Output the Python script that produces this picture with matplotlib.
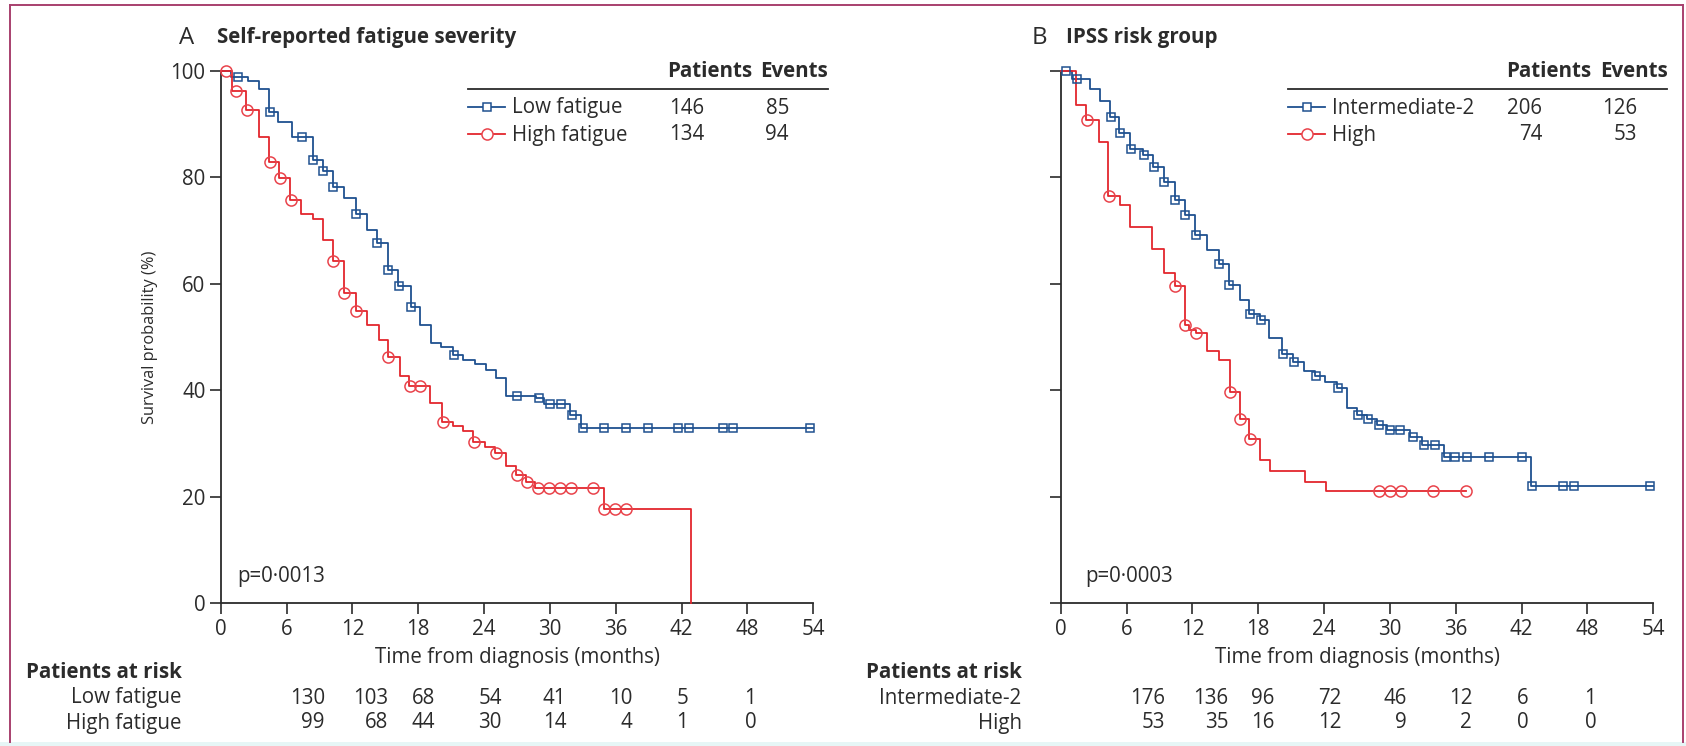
import numpy as np
import matplotlib
matplotlib.use("Agg")
import matplotlib.pyplot as plt
from matplotlib.lines import Line2D

plt.rcParams['font.family'] = ['Open Sans', 'DejaVu Sans']

# ---------------- data ----------------
months_ticks = [0, 6, 12, 18, 24, 30, 36, 42, 48, 54]
surv_ticks = [0, 20, 40, 60, 80, 100]

# Panel A: self-reported fatigue severity
low_fat_times = [0.97, 2.5, 3.5, 4.4, 5.2, 6.5, 8.4, 9.3, 10.2, 11.2, 12.3, 13.3, 14.2, 15.2,
                 16.2, 17.3, 18.2, 19.2, 20.1, 21.2, 22.1, 23.2, 24.2, 25.1, 26.0, 28.7, 29.5,
                 31.8, 32.8]
low_fat_surv = [98.9, 98.1, 96.6, 92.3, 90.3, 87.5, 83.2, 81.1, 78.2, 76.1, 73.2, 70.1, 67.7,
                62.6, 59.5, 55.6, 52.3, 48.9, 48.2, 46.6, 45.6, 45.0, 43.8, 42.3, 39.0, 38.5,
                37.4, 35.4, 32.9]
low_fat_censor = [1.6, 4.45, 7.4, 8.45, 9.35, 10.25, 12.35, 14.25, 15.25, 16.25, 17.35, 21.25,
                  27.0, 29.0, 30.0, 31.0, 32.0, 33.0, 34.9, 36.9, 38.9, 41.7, 42.7, 45.8, 46.7,
                  53.7]
low_fat_end = 54.0

high_fat_times = [1.0, 2.3, 3.5, 4.4, 5.3, 6.3, 7.3, 8.4, 9.3, 10.2, 11.2, 12.3, 13.3, 14.4,
                  15.2, 16.3, 17.2, 19.1, 20.2, 21.2, 22.1, 23.0, 24.1, 25.0, 26.0, 26.9, 27.8,
                  28.6, 34.9, 42.9]
high_fat_surv = [96.2, 92.6, 87.6, 82.9, 79.8, 75.7, 73.2, 72.2, 68.2, 64.3, 58.3, 54.9, 52.3,
                 49.4, 46.2, 42.6, 40.8, 37.6, 34.1, 33.3, 32.3, 30.3, 29.4, 28.2, 25.8, 24.1,
                 22.8, 21.6, 17.8, 0.0]
high_fat_censor = [0.5, 1.4, 2.4, 4.45, 5.4, 6.4, 10.25, 11.25, 12.35, 15.25, 17.25, 18.2,
                   20.25, 23.05, 25.05, 27.0, 27.9, 28.9, 29.9, 30.9, 31.9, 33.9, 34.95, 35.9,
                   36.9]
high_fat_end = 42.9

# Panel B: IPSS risk group
int2_times = [1.0, 2.7, 3.6, 4.5, 5.3, 6.3, 7.5, 8.4, 9.4, 10.4, 11.3, 12.2, 13.3, 14.4, 15.3,
              16.3, 17.2, 18.2, 19.0, 20.2, 21.2, 22.2, 23.2, 24.1, 25.2, 26.1, 27.0, 27.9,
              28.8, 29.7, 31.8, 32.9, 34.9, 42.9]
int2_surv = [98.4, 96.5, 94.3, 91.4, 88.3, 85.4, 84.2, 82.0, 79.2, 75.7, 72.9, 69.2, 66.3, 63.8,
             59.8, 57.0, 54.3, 53.2, 49.8, 46.9, 45.4, 43.7, 42.6, 41.6, 40.4, 36.6, 35.4, 34.7,
             33.5, 32.6, 31.3, 29.7, 27.5, 22.0]
int2_censor = [0.5, 1.5, 4.55, 5.4, 6.4, 7.55, 8.5, 9.45, 10.45, 11.35, 12.3, 14.45, 15.35,
               17.25, 18.25, 20.3, 21.25, 23.25, 25.25, 27.1, 28.0, 29.0, 30.0, 30.9, 32.1,
               33.1, 34.1, 35.1, 35.9, 37.0, 39.0, 42.0, 42.95, 45.8, 46.8, 53.7]
int2_end = 54.0

ipss_high_times = [1.4, 2.35, 3.5, 4.35, 5.4, 6.3, 8.3, 9.4, 10.4, 11.3, 11.7, 12.3, 13.3, 14.4,
                   15.4, 16.3, 17.2, 18.2, 19.1, 22.3, 24.2]
ipss_high_surv = [93.6, 90.8, 86.7, 76.4, 74.8, 70.7, 66.5, 62.0, 59.5, 52.3, 51.3, 50.7, 47.3,
                  45.7, 39.7, 34.6, 30.8, 26.9, 24.9, 22.8, 21.1]
ipss_high_censor = [2.4, 4.4, 10.45, 11.35, 12.35, 15.45, 16.35, 17.25, 29.0, 30.0, 31.0, 33.9,
                    36.9]
ipss_high_end = 36.9

# legend tables
groups_a = ["Low fatigue", "High fatigue"]
patients_a = [146, 134]
events_a = [85, 94]
groups_b = ["Intermediate-2", "High"]
patients_b = [206, 74]
events_b = [126, 53]

# numbers at risk (at 6, 12, ... 48 months)
risk_times = [6, 12, 18, 24, 30, 36, 42, 48]
risk_low_fat = [130, 103, 68, 54, 41, 10, 5, 1]
risk_high_fat = [99, 68, 44, 30, 14, 4, 1, 0]
risk_int2 = [176, 136, 96, 72, 46, 12, 6, 1]
risk_ipss_high = [53, 35, 16, 12, 9, 2, 0, 0]

# ---------------- style ----------------
BLUE = "#1f5190"
RED = "#e3262d"
RED_MK = "#e9434b"
INK = "#2b2b2b"
FS = 14.8

W, H = 1686, 746
fig = plt.figure(figsize=(W / 100, H / 100), dpi=100)
fig.patch.set_facecolor("white")


def fx(x):
    return x / W


def fy(y):
    return 1 - y / H


def draw_km(ax, times, surv, censor, end, color, mcolor, marker, ms):
    xs = [0.0] + list(times) + [end]
    ys = [100.0] + list(surv) + [surv[-1]]
    ax.step(xs, ys, where="post", color=color, lw=1.3, clip_on=False, zorder=3)
    levels = np.array([100.0] + list(surv))
    idx = np.searchsorted(np.array(times), np.array(censor), side="right")
    ax.plot(censor, levels[idx], linestyle="none", marker=marker, ms=ms, mfc="none",
            mec=mcolor, mew=1.1, clip_on=False, zorder=4)


def style_axes(ax, show_ylabels):
    ax.set_xlim(0, 54)
    ax.set_ylim(0, 100)
    ax.set_xticks(months_ticks)
    ax.set_yticks(surv_ticks)
    for side in ("top", "right"):
        ax.spines[side].set_visible(False)
    for side in ("left", "bottom"):
        ax.spines[side].set_color(INK)
        ax.spines[side].set_linewidth(1.3)
    ax.tick_params(direction="out", length=8, width=1.2, color=INK, labelsize=FS,
                   labelcolor=INK, pad=3)
    if not show_ylabels:
        ax.set_yticklabels([])
    ax.set_xlabel("Time from diagnosis (months)", fontsize=FS, color=INK, labelpad=5)


def legend_table(x0, x1, hdr_pat_left, hdr_ev_left, pat_right, ev_right,
                 names, pats, evs, specs):
    fig.text(fx(hdr_pat_left), fy(77), "Patients", fontsize=FS, fontweight="bold",
             color=INK, ha="left", va="baseline")
    fig.text(fx(hdr_ev_left), fy(77), "Events", fontsize=FS, fontweight="bold",
             color=INK, ha="left", va="baseline")
    fig.add_artist(Line2D([fx(x0), fx(x1)], [fy(89), fy(89)], color=INK, lw=1.3,
                          transform=fig.transFigure))
    for i, (name, p, e) in enumerate(zip(names, pats, evs)):
        base = 113.5 + 27 * i
        mid = base - 6.5
        col, mcol, mk, ms = specs[i]
        fig.add_artist(Line2D([fx(x0), fx(x0 + 37)], [fy(mid), fy(mid)], color=col, lw=1.3,
                              transform=fig.transFigure))
        fig.add_artist(Line2D([fx(x0 + 18.5)], [fy(mid)], color=col, marker=mk, ms=ms,
                              mfc="white", mec=mcol, mew=1.1, linestyle="none",
                              transform=fig.transFigure))
        fig.text(fx(x0 + 44), fy(base), name, fontsize=FS, color=INK, ha="left",
                 va="baseline")
        fig.text(fx(pat_right), fy(base), str(p), fontsize=FS, color=INK, ha="right",
                 va="baseline")
        fig.text(fx(ev_right), fy(base), str(e), fontsize=FS, color=INK, ha="right",
                 va="baseline")


def risk_table(ax, spine_x, names, rows):
    label_right = spine_x - 39
    fig.text(fx(label_right), fy(673), "Patients at risk", fontsize=FS, fontweight="bold",
             color=INK, ha="right", va="center")
    offsets = [3.5, 3.3, 1.5, 1.6, 1.5, 1.5, 0.6, 0.8]
    for r, (name, vals) in enumerate(zip(names, rows)):
        yy = 698 + 25 * r
        fig.text(fx(label_right), fy(yy), name, fontsize=FS, color=INK, ha="right",
                 va="center")
        for t, off, v in zip(risk_times, offsets, vals):
            xd = ax.transData.transform((t + off, 0))[0]
            fig.text(xd / W, fy(yy), str(v), fontsize=FS, color=INK, ha="right",
                     va="center")


ax_w = 592.6 / W
ax_h = 532.5 / H
ax_b = 1 - 603.3 / H
axA = fig.add_axes([220.7 / W, ax_b, ax_w, ax_h])
axB = fig.add_axes([1060.7 / W, ax_b, ax_w, ax_h])

# Panel A
style_axes(axA, True)
axA.set_ylabel("Survival probability (%)", fontsize=11.8, color=INK, labelpad=9)
draw_km(axA, low_fat_times, low_fat_surv, low_fat_censor, low_fat_end, BLUE, BLUE, "s", 6)
draw_km(axA, high_fat_times, high_fat_surv, high_fat_censor, high_fat_end, RED, RED_MK, "o", 8)
axA.text(1.55, 4.0, "p=0\u00b70013", fontsize=FS, color=INK, ha="left", va="baseline")

# Panel B
style_axes(axB, False)
draw_km(axB, int2_times, int2_surv, int2_censor, int2_end, BLUE, BLUE, "s", 6)
draw_km(axB, ipss_high_times, ipss_high_surv, ipss_high_censor, ipss_high_end, RED, RED_MK,
        "o", 8)
axB.text(2.2, 4.0, "p=0\u00b70003", fontsize=FS, color=INK, ha="left", va="baseline")

# panel titles
fig.text(fx(179), fy(43.5), "A", fontsize=FS + 2.5, color=INK, ha="left", va="baseline")
fig.text(fx(217), fy(43.5), "Self-reported fatigue severity", fontsize=FS,
         fontweight="bold", color=INK, ha="left", va="baseline")
fig.text(fx(1032), fy(43.5), "B", fontsize=FS + 2.5, color=INK, ha="left", va="baseline")
fig.text(fx(1066), fy(43.5), "IPSS risk group", fontsize=FS, fontweight="bold",
         color=INK, ha="left", va="baseline")

specs = [(BLUE, BLUE, "s", 6), (RED, RED_MK, "o", 8)]
legend_table(468, 828, 667, 760, 704, 789, groups_a, patients_a, events_a, specs)
legend_table(1288, 1667, 1506, 1600, 1542, 1637, groups_b, patients_b, events_b, specs)

fig.canvas.draw()
risk_table(axA, 220.7, groups_a, [risk_low_fat, risk_high_fat])
risk_table(axB, 1060.7, groups_b, [risk_int2, risk_ipss_high])

# frame around the figure
FRAME = "#a8406e"
for xs_, ys_ in (([10, 10], [5, 742]), ([10, 1683], [5, 5]), ([1683, 1683], [5, 742])):
    fig.add_artist(Line2D([fx(v) for v in xs_], [fy(v) for v in ys_], color=FRAME, lw=1.4,
                          transform=fig.transFigure))
fig.add_artist(plt.Rectangle((0, 0), 1, 4 / H, transform=fig.transFigure,
                             color="#e6f6f6", lw=0))

fig.savefig("out.png", dpi=100, facecolor="white")
